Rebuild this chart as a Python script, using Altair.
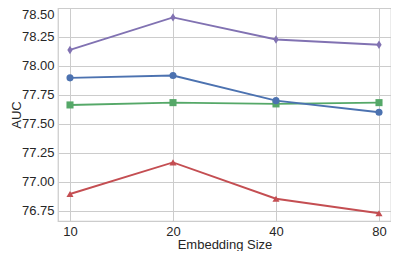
import altair as alt
import pandas as pd

sizes = ["10", "20", "40", "80"]
series = ["Series A", "Series B", "Series C", "Series D"]
colors = ["#C44E52", "#55A868", "#4C72B0", "#8172B2"]
shapes = ["triangle-up", "square", "circle", "M0,-1.2L0.75,0L0,1.2L-0.75,0Z"]

red_vals = [76.894, 77.167, 76.853, 76.728]
green_vals = [77.663, 77.683, 77.672, 77.683]
blue_vals = [77.897, 77.917, 77.700, 77.600]
purple_vals = [78.138, 78.419, 78.228, 78.183]

y_ticks = [76.75, 77.00, 77.25, 77.50, 77.75, 78.00, 78.25, 78.50]

rows = []
for name, vals in zip(series, [red_vals, green_vals, blue_vals, purple_vals]):
    for s, v in zip(sizes, vals):
        rows.append({"size": s, "auc": v, "model": name})
df = pd.DataFrame(rows)

x_enc = alt.X(
    "size:O",
    sort=sizes,
    scale=alt.Scale(type="point", padding=0.1165),
    axis=alt.Axis(title="Embedding Size", labelAngle=0, labelPadding=4,
                  titleBaseline="alphabetic", titleY=27),
)
y_enc = alt.Y(
    "auc:Q",
    scale=alt.Scale(domain=[76.661, 78.5], nice=False, zero=False),
    axis=alt.Axis(title="AUC", values=y_ticks, format=".2f", labelPadding=4,
                  labelFlush=True, titleAngle=270, titleBaseline="alphabetic",
                  titleX=-38, titleY=106.5, titleAlign="center"),
)
color_enc = alt.Color("model:N", sort=series,
                      scale=alt.Scale(domain=series, range=colors), legend=None)
shape_enc = alt.Shape("model:N", sort=series,
                      scale=alt.Scale(domain=series, range=shapes), legend=None)

base = alt.Chart(df)
lines = base.mark_line(strokeWidth=1.9).encode(
    x=x_enc, y=y_enc, color=color_enc, detail="model:N",
    order=alt.Order("size:O"),
)
points = base.mark_point(filled=True, size=50, opacity=1).encode(
    x=x_enc, y=y_enc, color=color_enc, shape=shape_enc,
)

chart = alt.layer(lines, points).properties(
    width=333,
    height=213,
    autosize=alt.AutoSizeParams(type="none"),
    padding={"left": 50, "top": 0, "right": 0, "bottom": 30},
).configure_view(
    stroke="#cccccc", strokeWidth=1.25,
).configure_axis(
    grid=True, gridColor="#cccccc", gridWidth=1, ticks=False, domain=False,
    labelFont="Liberation Sans", titleFont="Liberation Sans",
    labelFontSize=13, titleFontSize=13, titleFontWeight="normal",
    labelColor="#262626", titleColor="#262626",
)

chart.save("out.html", embed_options={"renderer": "svg", "actions": False})
